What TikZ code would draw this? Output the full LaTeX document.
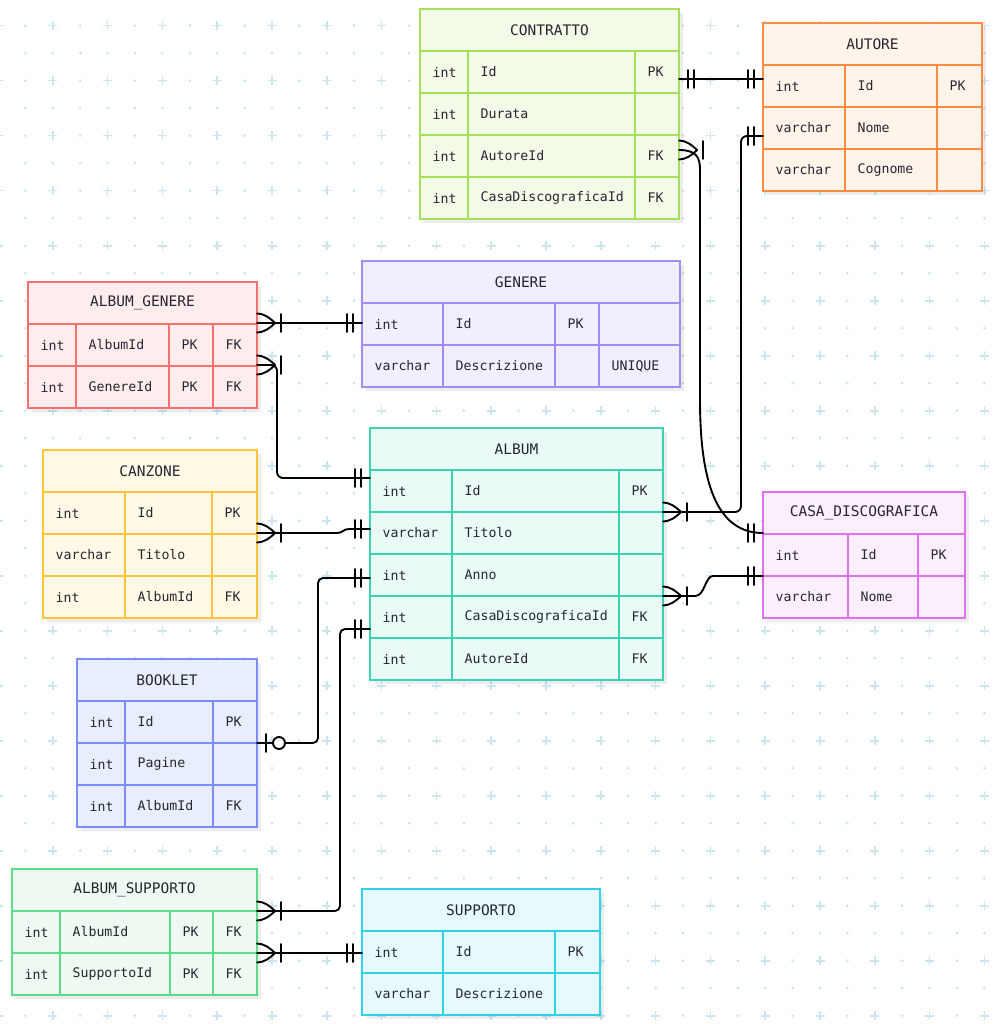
\documentclass[tikz,border=0pt]{standalone}
\usepackage{fontspec}
\newfontfamily\erfont{DejaVu Sans Mono}
\usepackage{tikz}
\usetikzlibrary{positioning, shadows}

\definecolor{gridC}{RGB}{203,230,240}
\definecolor{inkC}{RGB}{38,38,50}
\definecolor{contrattoC}{HTML}{A6E05A}\definecolor{contrattoF}{HTML}{F3FAE8}
\definecolor{autoreC}{HTML}{FF8C42}\definecolor{autoreF}{HTML}{FFF4EA}
\definecolor{agenereC}{HTML}{F77070}\definecolor{agenereF}{HTML}{FFEDED}
\definecolor{genereC}{HTML}{A08CF5}\definecolor{genereF}{HTML}{F1EFFE}
\definecolor{albumC}{HTML}{3CD3B4}\definecolor{albumF}{HTML}{EAFAF6}
\definecolor{casaC}{HTML}{E070F0}\definecolor{casaF}{HTML}{FCEFFD}
\definecolor{canzoneC}{HTML}{FFC53A}\definecolor{canzoneF}{HTML}{FFF9E6}
\definecolor{bookletC}{HTML}{7C8CF8}\definecolor{bookletF}{HTML}{E9EEFC}
\definecolor{asupportoC}{HTML}{5ADC8A}\definecolor{asupportoF}{HTML}{EEFAF1}
\definecolor{supportoC}{HTML}{2ED3EB}\definecolor{supportoF}{HTML}{E6FAFD}

\tikzset{
  entity/.style 2 args={
    rectangle,
    draw=#1,
    fill=#2,
    line width=1.9pt,
    anchor=north west,
    inner sep=0pt,
    outer sep=0pt,
    drop shadow={shadow xshift=4pt, shadow yshift=-4pt, opacity=0.07, fill=black}
  },
  rule/.style={draw=#1, line width=1.9pt},
  title/.style={font=\erfont\fontsize{14.5}{16}\selectfont, text=inkC},
  field/.style={
    anchor=west,
    inner xsep=12.5pt,
    inner ysep=0pt,
    font=\erfont\fontsize{13.2}{15}\selectfont,
    text=inkC
  },
  link/.style={line width=1.9pt, line cap=round, line join=round},
  pics/crow/.style={code={
    \draw[link] (0,9.5) .. controls (6,9.5) and (12,6) .. (18,0) .. controls (12,-6) and (6,-9.5) .. (0,-9.5);
    \draw[link] (24,9) -- (24,-9);
  }},
  pics/one/.style={code={
    \draw[link] (9,9) -- (9,-9) (15,9) -- (15,-9);
  }},
  pics/zeroone/.style={code={
    \draw[link] (9,9) -- (9,-9);
    \draw[link, fill=white] (22,0) circle (6pt);
  }}
}

% table frame: name, title, x, y, width, rows, border, fill
\newcommand{\ertable}[8]{%
  \node[entity={#7}{#8}, minimum width=#5, minimum height={42*(#6+1)}] (#1) at (#3,#4) {};
  \node[title] (#1-title) at ([yshift=-21]#1.north) {#2};
  \foreach \row in {1,...,#6}
    \draw[rule=#7] ([yshift=-42*\row]#1.north west) -- ([yshift=-42*\row]#1.north east);
}
% column lines: name, border, offsets
\newcommand{\ercols}[3]{%
  \foreach \col in {#3}
    \draw[rule=#2] ([shift={(\col,-42)}]#1.north west) -- ([xshift=\col]#1.south west);
}
% one row of texts: name, row, offset/text pairs
\newcommand{\erfields}[3]{%
  \foreach \col/\txt [count=\k] in {#3}
    \node[field] (#1-#2-\k) at ([shift={(\col,-42*#2-21)}]#1.north west) {\txt};
}

\begin{document}
\begin{tikzpicture}[x=1pt, y=1pt]
  \useasboundingbox (0,0) rectangle (1007,-1024);
  \fill[white] (0,0) rectangle (1007,-1024);

  % background grid
  \foreach \i in {0,...,37}
    \foreach \j in {-1,...,36}
      \fill[gridC] ({-2+27.4*\i},{-25.7-27.5*\j}) circle (1.5pt);
  \foreach \i in {0,2,...,36}
    \foreach \j in {0,2,...,36}
      \draw[gridC, line width=1.6pt] ({-2+27.4*\i-4.5},{-25.7-27.5*\j}) -- ++(9,0)
        ({-2+27.4*\i},{-25.7-27.5*\j-4.5}) -- ++(0,9);

  % Tables
  \ertable{contratto}{CONTRATTO}{420}{-9}{259}{4}{contrattoC}{contrattoF}
  \ercols{contratto}{contrattoC}{48,215}
  \foreach \row/\ty/\nm/\ka in {1/int/Id/PK, 2/int/Durata/{}, 3/int/AutoreId/FK, 4/int/CasaDiscograficaId/FK}
    {\erfields{contratto}{\row}{0/\ty, 48/\nm, 215/\ka}}

  \ertable{autore}{AUTORE}{763}{-23}{219}{3}{autoreC}{autoreF}
  \ercols{autore}{autoreC}{82,174}
  \foreach \row/\ty/\nm/\ka in {1/int/Id/PK, 2/varchar/Nome/{}, 3/varchar/Cognome/{}}
    {\erfields{autore}{\row}{0/\ty, 82/\nm, 174/\ka}}

  \ertable{album_genere}{ALBUM\_GENERE}{28}{-282}{229}{2}{agenereC}{agenereF}
  \ercols{album_genere}{agenereC}{48,141,185}
  \foreach \row/\ty/\nm/\ka/\kb in {1/int/AlbumId/PK/FK, 2/int/GenereId/PK/FK}
    {\erfields{album_genere}{\row}{0/\ty, 48/\nm, 141/\ka, 185/\kb}}

  \ertable{genere}{GENERE}{362}{-261}{318}{2}{genereC}{genereF}
  \ercols{genere}{genereC}{81,193,237}
  \foreach \row/\ty/\nm/\ka/\kb in {1/int/Id/PK/{}, 2/varchar/Descrizione/{}/UNIQUE}
    {\erfields{genere}{\row}{0/\ty, 81/\nm, 193/\ka, 237/\kb}}

  \ertable{album}{ALBUM}{370}{-428}{293}{5}{albumC}{albumF}
  \ercols{album}{albumC}{82,249}
  \foreach \row/\ty/\nm/\ka in {1/int/Id/PK, 2/varchar/Titolo/{}, 3/int/Anno/{}, 4/int/CasaDiscograficaId/FK, 5/int/AutoreId/FK}
    {\erfields{album}{\row}{0/\ty, 82/\nm, 249/\ka}}

  \ertable{casa}{CASA\_DISCOGRAFICA}{763}{-492}{202}{2}{casaC}{casaF}
  \ercols{casa}{casaC}{85,155}
  \foreach \row/\ty/\nm/\ka in {1/int/Id/PK, 2/varchar/Nome/{}}
    {\erfields{casa}{\row}{0/\ty, 85/\nm, 155/\ka}}

  \ertable{canzone}{CANZONE}{43}{-450}{214}{3}{canzoneC}{canzoneF}
  \ercols{canzone}{canzoneC}{82,169}
  \foreach \row/\ty/\nm/\ka in {1/int/Id/PK, 2/varchar/Titolo/{}, 3/int/AlbumId/FK}
    {\erfields{canzone}{\row}{0/\ty, 82/\nm, 169/\ka}}

  \ertable{booklet}{BOOKLET}{77}{-659}{180}{3}{bookletC}{bookletF}
  \ercols{booklet}{bookletC}{48,136}
  \foreach \row/\ty/\nm/\ka in {1/int/Id/PK, 2/int/Pagine/{}, 3/int/AlbumId/FK}
    {\erfields{booklet}{\row}{0/\ty, 48/\nm, 136/\ka}}

  \ertable{album_supporto}{ALBUM\_SUPPORTO}{12}{-869}{245}{2}{asupportoC}{asupportoF}
  \ercols{album_supporto}{asupportoC}{48,158,201}
  \foreach \row/\ty/\nm/\ka/\kb in {1/int/AlbumId/PK/FK, 2/int/SupportoId/PK/FK}
    {\erfields{album_supporto}{\row}{0/\ty, 48/\nm, 158/\ka, 201/\kb}}

  \ertable{supporto}{SUPPORTO}{362}{-889}{238}{2}{supportoC}{supportoF}
  \ercols{supporto}{supportoC}{81,193}
  \foreach \row/\ty/\nm/\ka in {1/int/Id/PK, 2/varchar/Descrizione/{}}
    {\erfields{supporto}{\row}{0/\ty, 81/\nm, 193/\ka}}

  % Relations
  \draw[link] ([yshift=-70]contratto.north east) -- ([yshift=-56]autore.north west);
  \draw[link] ([yshift=-141]contratto.north east) .. controls +(18,0) and +(0,12) .. ++(21,-20)
    -- ++(0,-230) .. controls +(0,-90) and +(-43,0) .. ([yshift=-41]casa.north west);
  \draw[link, rounded corners=6pt] ([yshift=-84]album.north east) -- ++(78,0) |- ([yshift=-113]autore.north west);
  \draw[link] ([yshift=-168]album.north east) -- ++(32,0) .. controls +(10,0) and +(-8,0) .. ++(18,20)
    -- ([yshift=-84]casa.north west);
  \draw[link] ([yshift=-41]album_genere.north east) -- ([yshift=-62]genere.north west);
  \draw[link, rounded corners=6pt] ([yshift=-83]album_genere.north east) -- ++(20,0) |- ([yshift=-50]album.north west);
  \draw[link] ([yshift=-83]canzone.north east) -- ++(80,0) .. controls +(6,0) and +(-6,0) .. ++(12,4)
    -- ([yshift=-101]album.north west);
  \draw[link, rounded corners=5pt] ([yshift=-84]booklet.north east) -- ++(61,0) |- ([yshift=-150]album.north west);
  \draw[link, rounded corners=5pt] ([yshift=-42]album_supporto.north east) -- ++(83,0) |- ([yshift=-201]album.north west);
  \draw[link] ([yshift=-84]album_supporto.north east) -- ([yshift=-64]supporto.north west);

  % Cardinality marks
  \pic at ([yshift=-70]contratto.north east) {one};
  \pic at ([yshift=-141]contratto.north east) {crow};
  \pic at ([yshift=-84]album.north east) {crow};
  \pic at ([yshift=-168]album.north east) {crow};
  \pic at ([yshift=-41]album_genere.north east) {crow};
  \pic at ([yshift=-83]album_genere.north east) {crow};
  \pic at ([yshift=-83]canzone.north east) {crow};
  \pic at ([yshift=-84]booklet.north east) {zeroone};
  \pic at ([yshift=-42]album_supporto.north east) {crow};
  \pic at ([yshift=-84]album_supporto.north east) {crow};
  \pic[xscale=-1] at ([yshift=-56]autore.north west) {one};
  \pic[xscale=-1] at ([yshift=-113]autore.north west) {one};
  \pic[xscale=-1] at ([yshift=-41]casa.north west) {one};
  \pic[xscale=-1] at ([yshift=-84]casa.north west) {one};
  \pic[xscale=-1] at ([yshift=-62]genere.north west) {one};
  \pic[xscale=-1] at ([yshift=-50]album.north west) {one};
  \pic[xscale=-1] at ([yshift=-101]album.north west) {one};
  \pic[xscale=-1] at ([yshift=-150]album.north west) {one};
  \pic[xscale=-1] at ([yshift=-201]album.north west) {one};
  \pic[xscale=-1] at ([yshift=-64]supporto.north west) {one};
\end{tikzpicture}
\end{document}
